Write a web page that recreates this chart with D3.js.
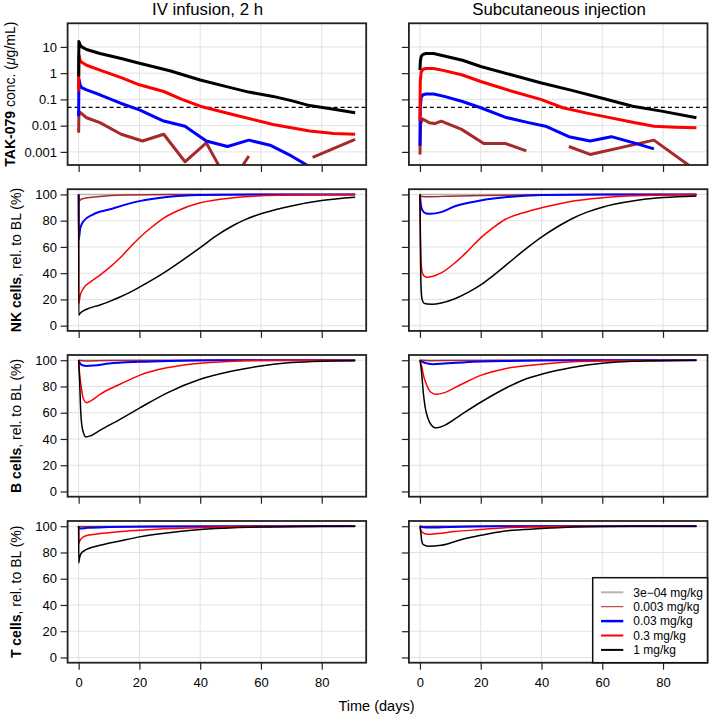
<!DOCTYPE html>
<html><head><meta charset="utf-8">
<script src="https://cdn.jsdelivr.net/npm/d3@7"></script>
<style>
body{margin:0;background:#fff}
svg{display:block}
text{font-family:"Liberation Sans",Arial,Helvetica,sans-serif;fill:#000}
</style>
</head><body>
<svg id="c" width="709" height="716"></svg>
<script>
// ---------------- data ----------------
const routes = ["IV infusion, 2 h", "Subcutaneous injection"];
const doses = ["3e\u221204 mg/kg", "0.003 mg/kg", "0.03 mg/kg", "0.3 mg/kg", "1 mg/kg"];
const xTicks = [0, 20, 40, 60, 80];
const pkTicks = [0.001, 0.01, 0.1, 1, 10];
const pkTickLabels = ["0.001", "0.01", "0.1", "1", "10"];
const cellTicks = [0, 20, 40, 60, 80, 100];
const lloq = 0.05;

// PK (µg/mL), [day, conc]; null = missing
const ivPk0003 = [[0,0.0054],[0.08,0.035],[2.6,0.02],[7,0.013],[14,0.0047],[21,0.0026],[28,0.0047],[35,0.00042],[42,0.0022],[47,0.0002],[50,null],[53,0.0002],[56,0.0007],[60,null],[77,0.00062],[91,0.003]];
const ivPk003 = [[0,0.023],[0.08,0.6],[0.5,0.35],[1,0.28],[2.6,0.23],[7,0.15],[14,0.07],[20,0.04],[28,0.015],[35,0.0095],[42,0.0026],[49,0.0016],[56,0.0028],[63,0.0018],[70,0.0007],[78,0.0002]];
const ivPk03 = [[0,0.2],[0.08,4.9],[0.5,3.0],[1,2.6],[2.6,2.0],[7,1.3],[14,0.68],[20,0.36],[28,0.2],[34,0.1],[40,0.055],[51,0.026],[64,0.011],[76,0.0063],[84,0.005],[91,0.0047]];
const ivPk1 = [[0,0.74],[0.08,16],[0.5,12],[1,10],[2.6,8],[7,5.6],[14,3.6],[20,2.4],[30,1.24],[40,0.55],[50,0.28],[56,0.19],[64,0.13],[70,0.09],[76,0.058],[84,0.042],[91,0.031]];

const scPk0003 = [[0,0.0008],[0.2,0.012],[0.9,0.018],[3,0.013],[4.9,0.012],[7,0.0148],[13.7,0.0072],[21,0.0021],[28,0.0021],[35,0.0011],[40,null],[49,0.0016],[56,0.0008],[77,0.0028],[91,0.00019]];
const scPk003 = [[0,0.0017],[0.1,0.05],[0.4,0.12],[1,0.15],[2,0.16],[4.5,0.16],[8,0.13],[14,0.083],[20,0.048],[28,0.021],[35.7,0.013],[41.7,0.0092],[49,0.0038],[56,0.0026],[63,0.0038],[71,0.0021],[77,0.0013]];
const scPk03 = [[0,0.015],[0.1,0.5],[0.4,1.1],[1,1.4],[2,1.5],[4.5,1.5],[8,1.25],[14,0.85],[20,0.48],[30,0.21],[40,0.098],[47,0.048],[55,0.03],[60,0.023],[70,0.0135],[77,0.0095],[84,0.0087],[91,0.0083]];
const scPk1 = [[0,1.3],[0.15,3],[0.4,4.3],[1,5.2],[2,5.6],[4.5,5.6],[8,4.5],[14,3.1],[20,1.8],[30,0.87],[40,0.42],[50,0.22],[60,0.11],[70,0.055],[80,0.035],[91,0.02]];

// cells, % of baseline, [day, %]
const flat100 = [[0,100],[91,100]];

const ivNk0003 = [[0,100],[0.02,95],[1,96.5],[3,97.5],[7,98.5],[15,99.5],[30,100],[91,100]];
const ivNk003 = [[0,100],[0.02,65.6],[0.5,74],[1.6,79.6],[4.7,84.7],[10,88.5],[20,94.9],[29,98],[40,99.5],[60,100],[91,100]];
const ivNk03 = [[0,100],[0.02,17],[0.5,23],[1.6,28.5],[4,33.5],[7,38.5],[10,44],[13.6,51.5],[17,60],[20,67],[24,75],[28,82],[33,88],[40,93.6],[51,97.5],[60,99],[70,99.6],[91,100]];
const ivNk1 = [[0,100],[0.02,8],[0.5,9.5],[1,10.5],[2.6,12.5],[7,15.8],[10,18.3],[13.6,21.8],[17,25.5],[20,29.3],[28,40.2],[33.4,48.6],[40,59.5],[45,68],[51,76.5],[55,81],[60,85.3],[65,88.5],[70,91.2],[80,95.3],[91,97.8]];

const scNk0003 = [[0,100],[0.5,98.5],[3,98.3],[10,98.7],[20,99.2],[40,99.7],[60,100],[91,100]];
const scNk003 = [[0,100],[0.3,92],[0.8,88],[2,85.5],[3.5,85.2],[7,86.5],[11.5,91],[20,95.4],[28,97.8],[40,99.5],[60,100],[91,100]];
const scNk03 = [[0,100],[0.15,70],[0.35,50],[0.7,41],[1.3,38],[2.5,36.9],[4,37.5],[7,40.2],[11.5,47.8],[16,57.5],[20,66.9],[24,74.5],[28,80.9],[34,86],[40,89.8],[50,94.9],[60,97.5],[70,99],[91,100]];
const scNk1 = [[0,100],[0.15,60],[0.35,30],[0.7,20],[1.3,17.2],[2.5,16.5],[4,16.4],[7,17.3],[11.5,20.5],[16,25.5],[20,31],[24,38],[28,45.5],[34,57],[40,67.5],[45,75],[50,81.5],[55,86.5],[60,90.3],[70,95],[80,97.6],[91,98.9]];

const ivB0003 = [[0,100],[2,99.5],[10,99.8],[91,100]];
const ivB003 = [[0,100],[0.5,97.5],[1.5,96],[2.6,95.7],[5,96],[10,97.5],[20,98.8],[30,99.5],[45,100],[91,100]];
const ivB03 = [[0,100],[0.3,90],[0.8,80.4],[1.5,71],[2.6,67.7],[4,69],[7,74],[13.6,81.7],[20,88.5],[29,94.2],[40,97.7],[51,99.3],[65,100],[91,100]];
const ivB1 = [[0,100],[0.3,85],[0.7,60],[1.3,47],[2.4,41.5],[4,42.5],[7,46.5],[13.6,55],[20,63.5],[29,75],[40,85.5],[51,92],[60,95.7],[70,98.2],[80,99.3],[91,99.7]];

const scB0003 = [[0,100],[3,99.7],[20,99.9],[91,100]];
const scB003 = [[0,100],[1,98.5],[2.5,97.5],[4.3,97],[8,97.5],[15,98.5],[30,99.5],[50,100],[91,100]];
const scB03 = [[0,100],[0.55,95.7],[1.1,89],[1.9,83],[3.5,75.8],[5.5,74],[8.1,75.3],[13.7,81.7],[20,88.5],[28,93.6],[40,97],[50,98.8],[60,99.5],[91,100]];
const scB1 = [[0,100],[0.55,90.6],[1.1,75.3],[1.65,65.1],[2.75,55],[3.8,50.4],[4.9,48.6],[6.5,49],[8.1,50.4],[13.7,58.8],[20,68],[28,78.5],[34,85],[40,89.3],[50,94.4],[60,97.7],[70,99.2],[91,100]];

const ivT0003 = [[0,100],[0.02,99.6],[91,100]];
const ivT003 = [[0,100],[0.02,98.2],[3,98.8],[10,99.4],[25,99.9],[91,100]];
const ivT03 = [[0,100],[0.02,86.8],[0.5,89.5],[1.6,91.9],[4,93.5],[7,94.4],[13,95.8],[20,96.9],[30,98.2],[40,99],[55,99.8],[91,100]];
const ivT1 = [[0,100],[0.02,72],[0.3,76],[0.8,79.2],[2.6,82.3],[7,85.5],[13.6,88.8],[20,91.9],[29,94.9],[40,97.5],[51,98.9],[62,99.5],[80,100],[91,100]];

const scT0003 = [[0,100],[1,99.7],[10,99.9],[91,100]];
const scT003 = [[0,100],[1,99.2],[3,99],[10,99.5],[25,100],[91,100]];
const scT03 = [[0,100],[0.3,97],[1,95],[2.7,93.9],[6,94.5],[11.5,96],[20,97.5],[28,98.9],[40,99.5],[55,100],[91,100]];
const scT1 = [[0,100],[0.3,95],[0.55,89.3],[1.1,86],[2.7,84.8],[7,85.5],[13.7,89.9],[20,93.1],[28,96.4],[40,98.2],[50,99.5],[70,100],[91,100]];

// series per panel, in dose order (3e-04, 0.003, 0.03, 0.3, 1); null = not shown
const panelSeries = [
  [[null, ivPk0003, ivPk003, ivPk03, ivPk1], [null, scPk0003, scPk003, scPk03, scPk1]],
  [[flat100, ivNk0003, ivNk003, ivNk03, ivNk1], [flat100, scNk0003, scNk003, scNk03, scNk1]],
  [[flat100, ivB0003, ivB003, ivB03, ivB1], [flat100, scB0003, scB003, scB03, scB1]],
  [[flat100, ivT0003, ivT003, ivT03, ivT1], [flat100, scT0003, scT003, scT03, scT1]]
];

// ---------------- style / layout ----------------
const colors = ["#b5b5b5", "#a52a2a", "#0000ff", "#ff0000", "#000000"];
const pkWidths = [3, 3, 3, 3, 3];
const cellWidths = [1.5, 1.5, 2, 1.5, 1.5];
const legendWidths = [2, 1, 2.5, 2, 2];

const colX = [[67.6, 366.2], [408.9, 707.5]];
const rowTop = [23.3, 189.2, 355, 521];
const panelH = 141.7;
const tickLen = 7;
const fontTick = 13;

const rowLabels = [
  [["TAK-079", "bold", "normal"], [" conc. (", "normal", "normal"], ["\u03bc", "normal", "italic"], ["g/mL)", "normal", "normal"]],
  [["NK cells", "bold", "normal"], [", rel. to BL (%)", "normal", "normal"]],
  [["B cells", "bold", "normal"], [", rel. to BL (%)", "normal", "normal"]],
  [["T cells", "bold", "normal"], [", rel. to BL (%)", "normal", "normal"]]
];
const rowLabelX = [15, 21, 21, 21];

const svg = d3.select("#c");

for (let r = 0; r < 4; r++) {
  for (let c = 0; c < 2; c++) {
    const [x0, x1] = colX[c];
    const top = rowTop[r], bot = top + panelH;
    const x = d3.scaleLinear().domain([-3.64, 94.64]).range([x0, x1]);
    const y = r === 0
      ? d3.scaleLog().domain([Math.pow(10, -3.5), Math.pow(10, 1.9)]).range([bot, top])
      : d3.scaleLinear().domain([-4, 104]).range([bot, top]);
    const yTicks = r === 0 ? pkTicks : cellTicks;

    const g = svg.append("g");
    const id = "clip" + r + c;
    svg.append("clipPath").attr("id", id).append("rect")
      .attr("x", x0).attr("y", top).attr("width", x1 - x0).attr("height", panelH);

    // grid
    g.selectAll(".gx").data(xTicks).enter().append("line")
      .attr("x1", d => x(d)).attr("x2", d => x(d)).attr("y1", top).attr("y2", bot)
      .attr("stroke", "#e2e2e2").attr("stroke-width", 1);
    g.selectAll(".gy").data(yTicks).enter().append("line")
      .attr("y1", d => y(d)).attr("y2", d => y(d)).attr("x1", x0).attr("x2", x1)
      .attr("stroke", "#e2e2e2").attr("stroke-width", 1);

    const lg = g.append("g").attr("clip-path", "url(#" + id + ")");
    if (r === 0) {
      lg.append("line").attr("x1", x0).attr("x2", x1).attr("y1", y(lloq)).attr("y2", y(lloq))
        .attr("stroke", "#000").attr("stroke-width", 1.3).attr("stroke-dasharray", "4,3");
    }
    const line = d3.line()
      .defined(d => d[1] !== null)
      .x(d => x(d[0])).y(d => y(d[1]))
      .curve(r === 0 ? d3.curveLinear : d3.curveMonotoneX);
    panelSeries[r][c].forEach((s, i) => {
      if (!s) return;
      lg.append("path").attr("d", line(s)).attr("fill", "none")
        .attr("stroke", colors[i])
        .attr("stroke-width", r === 0 ? pkWidths[i] : cellWidths[i])
        .attr("stroke-linejoin", "round");
    });

    // border
    g.append("rect").attr("x", x0).attr("y", top).attr("width", x1 - x0).attr("height", panelH)
      .attr("fill", "none").attr("stroke", "#222").attr("stroke-width", 1.8);

    // y axis
    const ya = d3.axisLeft(y).tickValues(yTicks).tickSize(tickLen).tickPadding(3.6)
      .tickFormat((d, i) => c === 0 ? (r === 0 ? pkTickLabels[i] : String(d)) : "");
    const yg = g.append("g").attr("transform", `translate(${x0},0)`).call(ya);
    yg.select(".domain").remove();
    yg.selectAll("line").attr("stroke", "#222").attr("stroke-width", 1.2);
    yg.selectAll("text").attr("font-size", fontTick).attr("font-family", "Liberation Sans, Arial, sans-serif").attr("fill", "#111");

    // x axis
    const xa = d3.axisBottom(x).tickValues(xTicks).tickSize(tickLen).tickPadding(8)
      .tickFormat(d => r === 3 ? String(d) : "");
    const xg = g.append("g").attr("transform", `translate(0,${bot})`).call(xa);
    xg.select(".domain").remove();
    xg.selectAll("line").attr("stroke", "#222").attr("stroke-width", 1.2);
    xg.selectAll("text").attr("font-size", fontTick).attr("font-family", "Liberation Sans, Arial, sans-serif").attr("fill", "#111");
  }
  // row label
  const cy = rowTop[r] + panelH / 2;
  const t = svg.append("text").attr("transform", `translate(${rowLabelX[r]},${cy}) rotate(-90)`)
    .attr("text-anchor", "middle").attr("font-size", 14);
  rowLabels[r].forEach(p => t.append("tspan").text(p[0]).attr("font-weight", p[1]).attr("font-style", p[2]));
}

// column titles
const titleX = [207.5, 559];
routes.forEach((s, i) => {
  svg.append("text").attr("x", titleX[i]).attr("y", 15).attr("text-anchor", "middle")
    .attr("font-size", 16.8).text(s);
});

// x label
svg.append("text").attr("x", 376.5).attr("y", 710.5).attr("text-anchor", "middle")
  .attr("font-size", 14.5).text("Time (days)");

// legend
const lgx0 = 592.7, lgy0 = 577.7, lgx1 = colX[1][1], lgy1 = rowTop[3] + panelH;
const leg = svg.append("g");
leg.append("rect").attr("x", lgx0).attr("y", lgy0).attr("width", lgx1 - lgx0).attr("height", lgy1 - lgy0)
  .attr("fill", "#fff").attr("stroke", "#111").attr("stroke-width", 1.5);
doses.forEach((d, i) => {
  const yy = 592.3 + i * 14.4;
  leg.append("line").attr("x1", 601).attr("x2", 623.3).attr("y1", yy).attr("y2", yy)
    .attr("stroke", colors[i]).attr("stroke-width", legendWidths[i]);
  leg.append("text").attr("x", 633.3).attr("y", yy).attr("dy", "0.36em").attr("font-size", 12).text(d);
});
</script>
</body></html>
